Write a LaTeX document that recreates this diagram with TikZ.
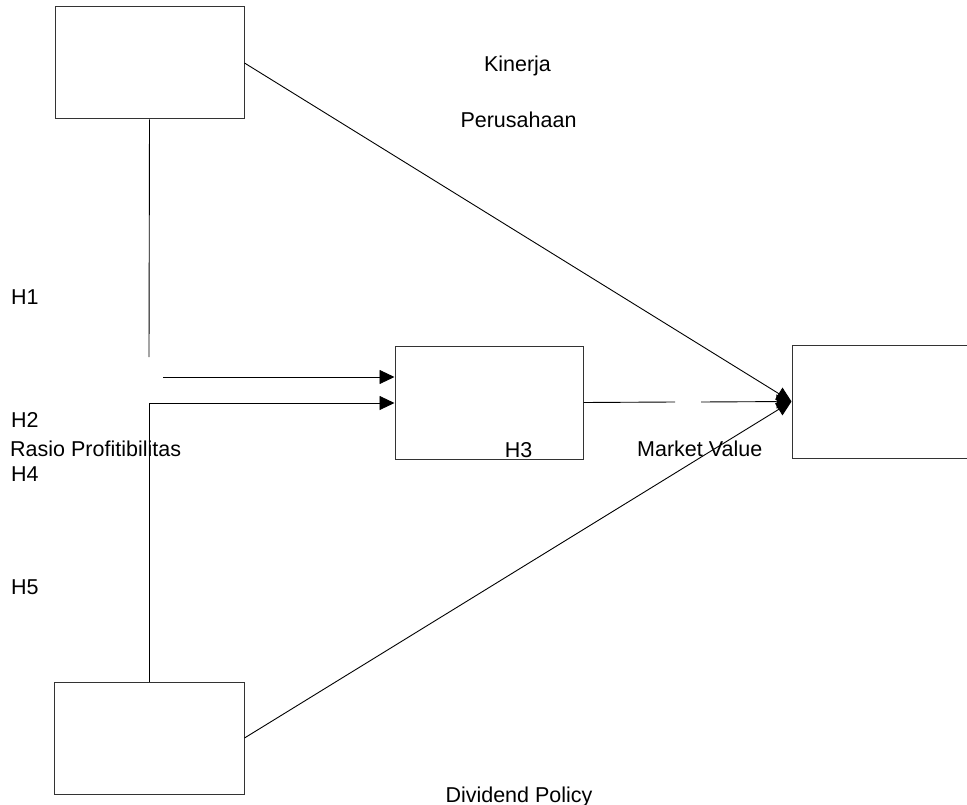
\documentclass[tikz,border=0pt]{standalone}
\usepackage{fontspec}
\setmainfont{Liberation Sans}
\usetikzlibrary{arrows.meta}
\tikzset{
  boxnode/.style={draw=black!80, line width=1pt, inner sep=0pt, fill=none},
  lbl/.style={inner sep=0pt, font=\fontsize{21.5}{25}\selectfont},
  conn/.style={draw=black, line width=0.9pt},
  tip/.style={-{Triangle[length=15pt,width=14pt]}}
}
\begin{document}
\begin{tikzpicture}[x=1pt,y=-1pt]
\useasboundingbox (0,0) rectangle (967,805);
\begin{scope}
\clip (0,0) rectangle (967,805);
% boxes
\node[boxnode, minimum width=189pt, minimum height=112pt] (tl) at (149.5,63) {};
\node[boxnode, minimum width=188pt, minimum height=113pt] (mid) at (489,402.5) {};
\node[boxnode, minimum width=190pt, minimum height=112pt] (bl) at (149,738) {};
\node[boxnode, minimum width=190pt, minimum height=113pt] (rb) at (887,401.5) {};
% H3 label breaking the bottom edge of middle box
\node[lbl, anchor=base, fill=white, inner xsep=2pt, inner ysep=0pt] (h3) at (518.5,457) {H3};
% helper coordinates
\coordinate (vtop) at (149,357);
\coordinate (vbot) at (149,403);
\coordinate (a1) at (163,377);
\coordinate (gapA) at (675,402);
\coordinate (gapB) at (701,402);
% connectors
\draw[conn] (tl.south) -- (vtop);
\draw[conn] (vbot) -- (bl.north);
\draw[conn, tip] (a1) -- (a1 -| mid.west);
\draw[conn, tip] (vbot) -- (vbot -| mid.west);
\draw[conn] (mid.east) -- (gapA);
\draw[conn, tip] (gapB) -- (rb.west);
\draw[conn, tip] (tl.east) -- (rb.west);
\draw[conn, tip] (bl.east) -- (rb.west);
% labels
\node[lbl, anchor=base] (kin) at (517.5,72) {Kinerja};
\node[lbl, anchor=base] (per) at (518.5,128) {Perusahaan};
\node[lbl, anchor=base west] (h1) at (11,305) {H1};
\node[lbl, anchor=base west] (h2) at (11,427) {H2};
\node[lbl, anchor=base west] (rp) at (10,456) {Rasio Profitibilitas};
\node[lbl, anchor=base west] (h4) at (11,481) {H4};
\node[lbl, anchor=base west] (h5) at (11,594) {H5};
\node[lbl, anchor=base west] (mv) at (637,456) {Market Value};
\node[lbl, anchor=base] (dp) at (519,802) {Dividend Policy};
\end{scope}
\end{tikzpicture}
\end{document}
